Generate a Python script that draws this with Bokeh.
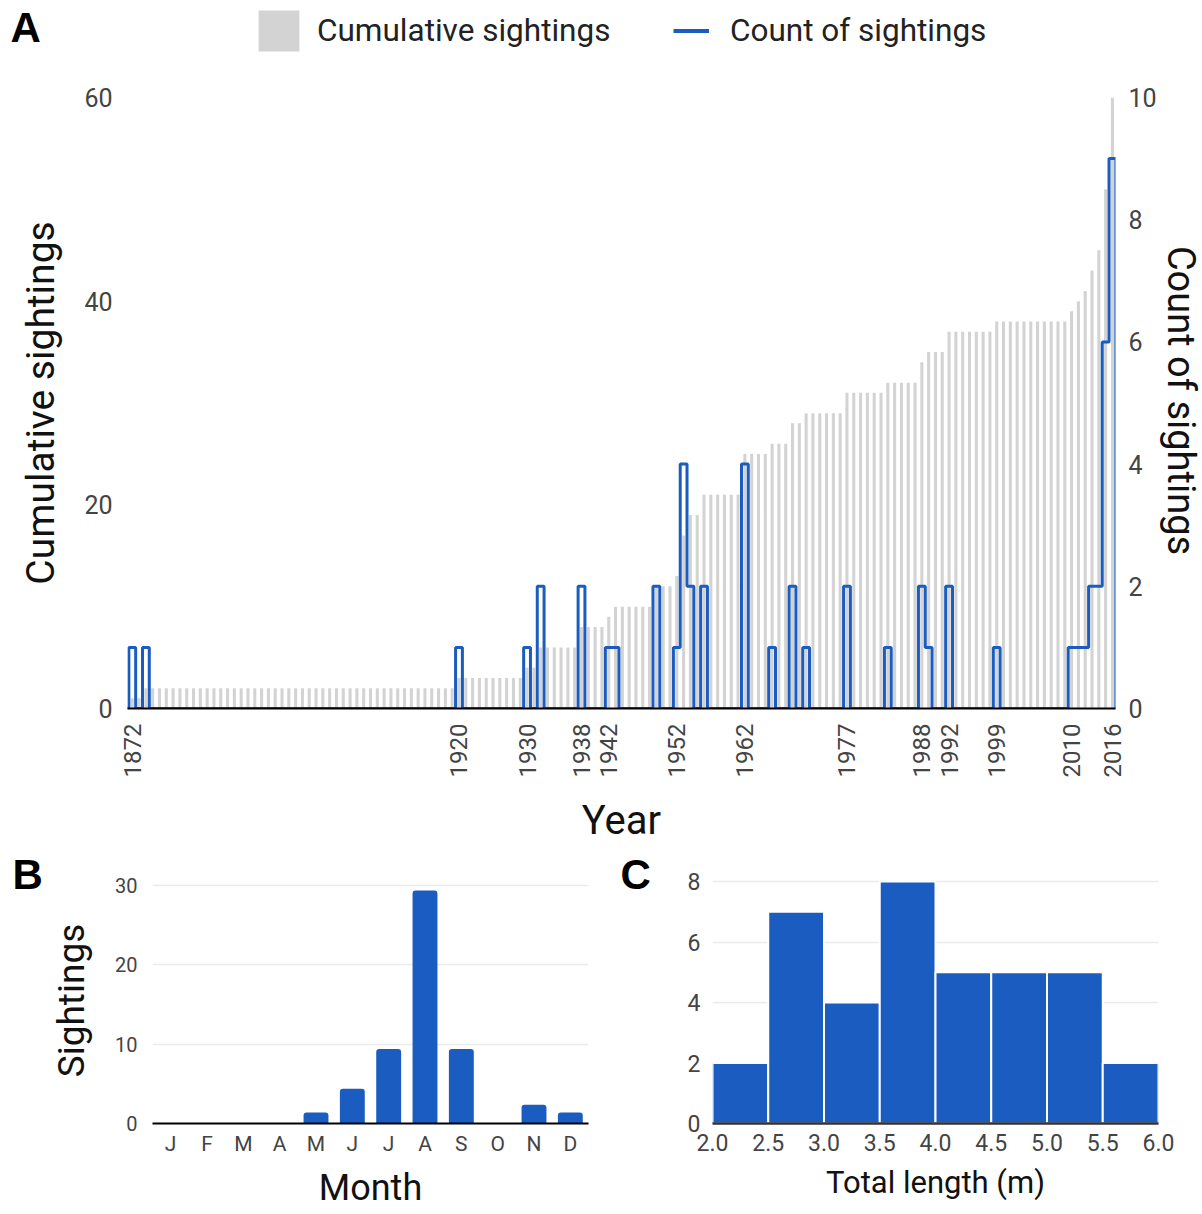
import math
import numpy as np
from bokeh.plotting import figure
from bokeh.models import (Range1d, LinearAxis, Legend, LegendItem, Label,
                          ColumnDataSource, NumeralTickFormatter)
from bokeh.layouts import column, row
from bokeh.embed import file_html
from bokeh.resources import INLINE

# ---------------- data ----------------
# Panel A: yearly count of sightings (years not listed had none)
sighting_years = [1872, 1874, 1920, 1930, 1932, 1938, 1942, 1943, 1949, 1952,
                  1953, 1954, 1956, 1962, 1966, 1969, 1971, 1977, 1983, 1988,
                  1989, 1992, 1999, 2010, 2011, 2012, 2013, 2014, 2015, 2016]
sighting_counts = [1, 1, 1, 1, 2, 2, 1, 1, 2, 1,
                   4, 2, 2, 4, 1, 2, 1, 2, 1, 2,
                   1, 2, 1, 1, 1, 1, 2, 2, 6, 9]
first_year, last_year = 1872, 2016
year_ticks = [1872, 1920, 1930, 1938, 1942, 1952, 1962, 1977, 1988, 1992, 1999, 2010, 2016]
cum_ticks = [0, 20, 40, 60]
count_ticks = [0, 2, 4, 6, 8, 10]

# Panel B: sightings per month
months = ["J", "F", "M", "A", "M", "J", "J", "A", "S", "O", "N", "D"]
month_counts = [0, 0, 0, 0, 1, 4, 9, 29, 9, 0, 2, 1]
month_y_ticks = [0, 10, 20, 30]

# Panel C: histogram of total length
length_edges = [2.0, 2.5, 3.0, 3.5, 4.0, 4.5, 5.0, 5.5, 6.0]
length_counts = [2, 7, 4, 8, 5, 5, 5, 2]
length_y_ticks = [0, 2, 4, 6, 8]

# ---------------- styles ----------------
BLUE = "#1a5cc0"
GRAY = "#d3d3d3"
FONT = "Roboto"
TICK_COLOR = "#444444"
TITLE_COLOR = "#111111"


def style_axis(ax, tick_size, title_size, line_color=None, line_width=1):
    ax.major_tick_line_color = None
    ax.minor_tick_line_color = None
    ax.major_tick_out = 0
    ax.major_tick_in = 0
    ax.minor_tick_out = 0
    ax.axis_line_color = line_color
    ax.axis_line_width = line_width
    ax.major_label_text_font = FONT
    ax.major_label_text_font_size = tick_size
    ax.major_label_text_color = TICK_COLOR
    ax.axis_label_text_font = FONT
    ax.axis_label_text_font_size = title_size
    ax.axis_label_text_font_style = "normal"
    ax.axis_label_text_color = TITLE_COLOR


def blank(width, height):
    f = figure(width=width, height=height, output_backend="svg",
               toolbar_location=None, x_axis_type=None, y_axis_type=None,
               x_range=Range1d(0, width), y_range=Range1d(0, height),
               min_border=0)
    f.outline_line_color = None
    f.grid.visible = False
    return f


def panel_letter(p, text, x, y):
    p.add_layout(Label(x=x, y=y, x_units="screen", y_units="screen", text=text,
                       text_font="Liberation Sans", text_font_style="bold",
                       text_font_size="42px", text_color="#000000",
                       text_baseline="middle", text_align="left"))


def side_title(p, text, x, y, angle, size):
    p.add_layout(Label(x=x, y=y, x_units="screen", y_units="screen", text=text,
                       angle=angle, text_font=FONT, text_font_size=size,
                       text_color=TITLE_COLOR, text_align="center",
                       text_baseline="middle"))


# ---------------- header: letter A and legend ----------------
header = blank(1202, 60)
leg_bars = header.vbar(x=[0], top=[0], width=0.45, fill_color=GRAY, line_color=None)
leg_step = header.line(x=[0], y=[0], line_color=BLUE, line_width=4)
leg1 = Legend(items=[LegendItem(label="Cumulative sightings", renderers=[leg_bars])],
              location=(253, 4), orientation="horizontal",
              glyph_width=51, glyph_height=51, label_standoff=13,
              padding=0, margin=0, border_line_color=None,
              background_fill_alpha=0, label_text_font=FONT,
              label_text_font_size="31.5px", label_text_color="#222222")
leg2 = Legend(items=[LegendItem(label="Count of sightings", renderers=[leg_step])],
              location=(673, 9), orientation="horizontal",
              glyph_width=36, glyph_height=41, label_standoff=21,
              padding=0, margin=0, border_line_color=None,
              background_fill_alpha=0, label_text_font=FONT,
              label_text_font_size="31.5px", label_text_color="#222222")
header.add_layout(leg1, "center")
header.add_layout(leg2, "center")
panel_letter(header, "A", 10, 33)

# ---------------- panel A ----------------
all_years = np.arange(first_year, last_year + 1)
count_by_year = np.zeros(len(all_years))
for yr, c in zip(sighting_years, sighting_counts):
    count_by_year[yr - first_year] = c
cumulative = np.cumsum(count_by_year)

step_x = np.concatenate([[first_year - 1], all_years, [last_year + 1]])
step_y = np.concatenate([[0], count_by_year, [0]])

pA = figure(width=1159, height=788, output_backend="svg", toolbar_location=None,
            x_range=Range1d(1871.3, 2016.45), y_range=Range1d(0, 60),
            min_border_left=127, min_border_right=43, min_border_top=37,
            min_border_bottom=140)
pA.extra_y_ranges = {"count": Range1d(0, 10)}
pA.outline_line_color = None
pA.xgrid.visible = False
pA.ygrid.visible = False

pA.vbar(x=all_years, top=cumulative, width=0.45, fill_color=GRAY, line_color=None)
pA.step(x=step_x, y=step_y, mode="center", line_color=BLUE, line_width=3,
        y_range_name="count")

pA.xaxis.ticker = year_ticks
pA.xaxis.major_label_orientation = math.pi / 2
pA.xaxis.axis_label = "Year"
pA.xaxis.major_label_standoff = 15
pA.xaxis.axis_label_standoff = 17
style_axis(pA.xaxis[0], "24px", "40px", line_color="#000000", line_width=2)

pA.yaxis.ticker = cum_ticks
pA.yaxis.axis_label = "Cumulative sightings"
pA.yaxis.major_label_standoff = 15
pA.yaxis.axis_label_standoff = 17
style_axis(pA.yaxis[0], "25px", "39px")

right_axis = LinearAxis(y_range_name="count", ticker=count_ticks)
right_axis.major_label_standoff = 13
style_axis(right_axis, "25px", "39px")
pA.add_layout(right_axis, "right")

# right-hand axis title in its own strip (frame aligned with panel A's frame)
rtitle = blank(43, 788)
side_title(rtitle, "Count of sightings", 21, 308, -math.pi / 2, "38px")

# ---------------- panel B ----------------
# frames of this row start at its top edge, so the panel letters are not clipped
B_TOP_FRAC = (1123 - 848) / (1123 - 885)
C_TOP_FRAC = (1123 - 848) / (1123 - 881)

month_pos = [i + 1 for i in range(len(months))]
nz = [i for i, c in enumerate(month_counts) if c > 0]
srcB = ColumnDataSource(dict(x=[month_pos[i] for i in nz],
                             top=[month_counts[i] for i in nz]))

stripB = blank(100, 366)
panel_letter(stripB, "B", 12, 249)
side_title(stripB, "Sightings", 71, 123, math.pi / 2, "37px")

pB = figure(width=500, height=366, output_backend="svg", toolbar_location=None,
            x_range=Range1d(0.5, 12.5),
            y_range=Range1d(0, month_y_ticks[-1] * B_TOP_FRAC),
            min_border_left=52, min_border_right=12, min_border_top=0,
            min_border_bottom=91)
pB.outline_line_color = None
pB.xgrid.visible = False
pB.ygrid.grid_line_color = "#ebebeb"
pB.ygrid.grid_line_width = 1.5
pB.vbar(x="x", top="top", width=0.52, source=srcB, fill_color=BLUE,
        line_color=BLUE, line_width=6, line_join="round")
pB.xaxis.ticker = month_pos
pB.xaxis.major_label_overrides = {p: m for p, m in zip(month_pos, months)}
pB.xaxis.axis_label = "Month"
pB.xaxis.major_label_standoff = 8
pB.xaxis.axis_label_standoff = 8
style_axis(pB.xaxis[0], "21px", "36px", line_color="#000000", line_width=2)
pB.yaxis.ticker = month_y_ticks
pB.yaxis.major_label_standoff = 15
style_axis(pB.yaxis[0], "20px", "37px")

# ---------------- panel C ----------------
stripC = blank(60, 366)
panel_letter(stripC, "C", 20, 249)

pC = figure(width=542, height=366, output_backend="svg", toolbar_location=None,
            x_range=Range1d(2.0, 6.0),
            y_range=Range1d(0, length_y_ticks[-1] * C_TOP_FRAC),
            min_border_left=52, min_border_right=44, min_border_top=0,
            min_border_bottom=91)
pC.outline_line_color = None
pC.xgrid.visible = False
pC.ygrid.grid_line_color = "#ebebeb"
pC.ygrid.grid_line_width = 1.5
pC.quad(left=length_edges[:-1], right=length_edges[1:], bottom=0,
        top=length_counts, fill_color=BLUE, line_color="white", line_width=2)
pC.xaxis.ticker = length_edges
pC.xaxis.formatter = NumeralTickFormatter(format="0.0")
pC.xaxis.axis_label = "Total length (m)"
pC.xaxis.major_label_standoff = 10
pC.xaxis.axis_label_standoff = 10
style_axis(pC.xaxis[0], "23px", "31px", line_color="#333333", line_width=2.5)
pC.yaxis.ticker = length_y_ticks
pC.yaxis.major_label_standoff = 12
style_axis(pC.yaxis[0], "23px", "31px")

layout = column(header, row(pA, rtitle), row(stripB, pB, stripC, pC))
open("out.html", "w").write(file_html(layout, INLINE))
